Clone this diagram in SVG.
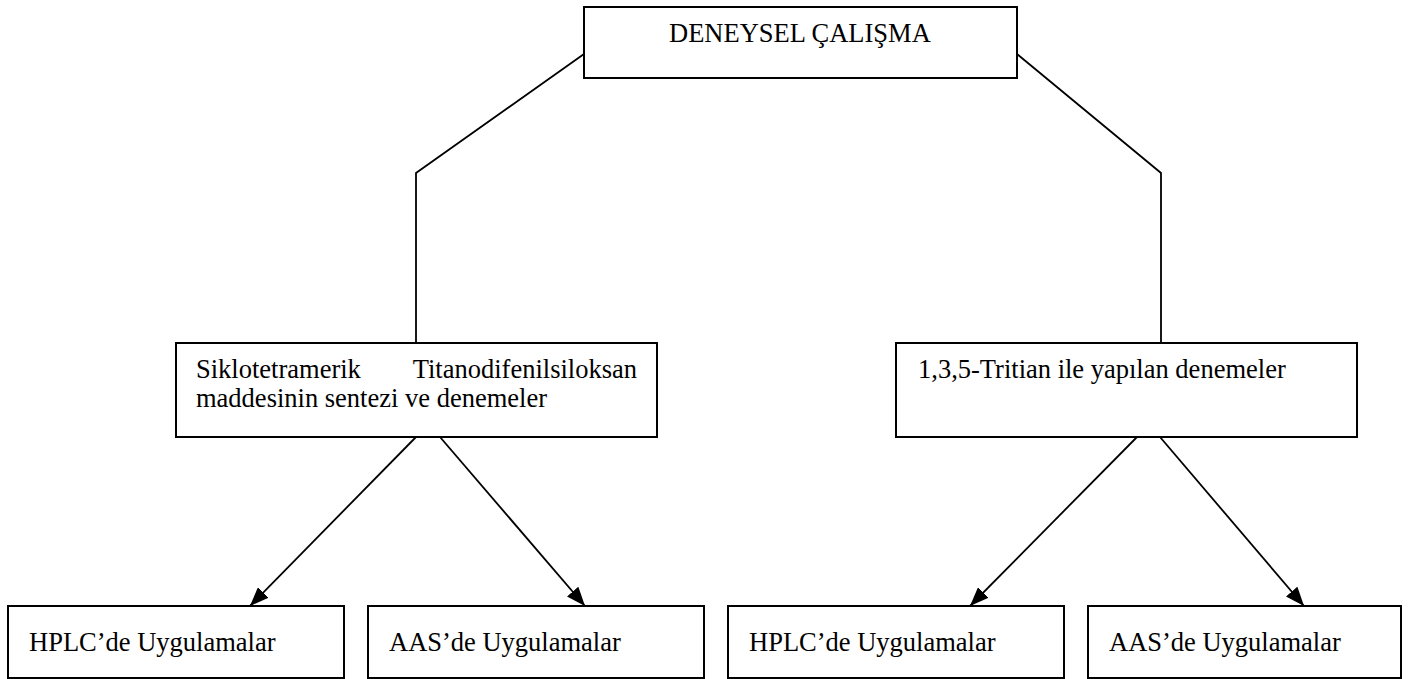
<svg xmlns="http://www.w3.org/2000/svg" width="1420" height="679" viewBox="0 0 1420 679">
<style>
.box{fill:#fff;stroke:#000;stroke-width:2}
.t{font-family:"Liberation Serif","Times New Roman",serif;font-size:26.5px;fill:#000}
.c{fill:none;stroke:#000;stroke-width:1.8}
</style>
<defs>
<marker id="arr" viewBox="0 0 19 15" refX="19" refY="7.5" markerWidth="19" markerHeight="15" orient="auto" markerUnits="userSpaceOnUse">
<path d="M0,0 L19,7.5 L0,15 Z" fill="#000"/>
</marker>
</defs>
<g id="connectors">
<polyline class="c" points="584,54 416,173 416,343"/>
<polyline class="c" points="1017,54 1161,173 1161,343"/>
<line class="c" x1="416" y1="437" x2="250" y2="606" marker-end="url(#arr)"/>
<line class="c" x1="440" y1="437" x2="585" y2="606" marker-end="url(#arr)"/>
<line class="c" x1="1137" y1="437" x2="970" y2="606" marker-end="url(#arr)"/>
<line class="c" x1="1160" y1="437" x2="1304" y2="606" marker-end="url(#arr)"/>
</g>
<g id="root">
<rect class="box" x="584" y="7" width="433" height="71"/>
<text class="t" x="669" y="42">DENEYSEL ÇALIŞMA</text>
</g>
<g id="synth">
<rect class="box" x="176" y="343" width="481" height="94"/>
<text class="t" x="196" y="378">Siklotetramerik</text>
<text class="t" x="637" y="378" text-anchor="end">Titanodifenilsiloksan</text>
<text class="t" x="196" y="407">maddesinin sentezi ve denemeler</text>
</g>
<g id="tritian">
<rect class="box" x="896" y="343" width="461" height="94"/>
<text class="t" x="918" y="378">1,3,5-Tritian ile yapılan denemeler</text>
</g>
<g id="hplc1">
<rect class="box" x="8" y="606" width="336" height="72"/>
<text class="t" x="29" y="651">HPLC’de Uygulamalar</text>
</g>
<g id="aas1">
<rect class="box" x="368" y="606" width="336" height="72"/>
<text class="t" x="389" y="651">AAS’de Uygulamalar</text>
</g>
<g id="hplc2">
<rect class="box" x="728" y="606" width="336" height="72"/>
<text class="t" x="749" y="651">HPLC’de Uygulamalar</text>
</g>
<g id="aas2">
<rect class="box" x="1088" y="606" width="313" height="72"/>
<text class="t" x="1109" y="651">AAS’de Uygulamalar</text>
</g>
</svg>
